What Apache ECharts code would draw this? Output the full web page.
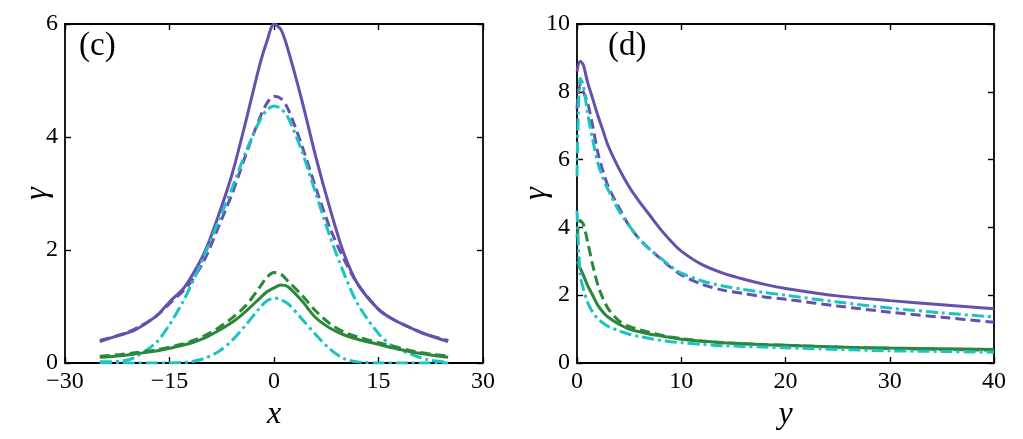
<!DOCTYPE html>
<html>
<head>
    <meta charset="utf-8">
    <title>gamma profiles</title>
    <script src="https://cdn.jsdelivr.net/npm/echarts@6/dist/echarts.min.js"></script>
    <style>
        html, body { margin: 0; padding: 0; background: #fff; }
        #chart { width: 1023px; height: 439px; }
    </style>
</head>
<body>
<div id="chart"></div>
<script type="text/javascript">
    // panel (c): gamma vs x
    var xs = [-25, -22, -20, -17, -15, -13, -12, -10, -8, -6, -4, -2, -1, 0, 1, 2, 4, 6, 8, 10, 12, 15, 17, 20, 22, 25];
    var cPurpleSolid = [0.38, 0.5, 0.58, 0.82, 1.08, 1.32, 1.5, 1.95, 2.6, 3.35, 4.3, 5.3, 5.7, 6.0, 5.9, 5.55, 4.65, 3.65, 2.75, 1.95, 1.4, 0.95, 0.78, 0.6, 0.5, 0.38];
    var cPurpleDash  = [0.4, 0.5, 0.6, 0.82, 1.05, 1.28, 1.42, 1.82, 2.4, 3.0, 3.7, 4.35, 4.6, 4.72, 4.68, 4.5, 3.85, 3.1, 2.4, 1.85, 1.4, 0.95, 0.78, 0.6, 0.5, 0.4];
    var cCyanUpper   = [0.02, 0.03, 0.1, 0.35, 0.68, 1.1, 1.35, 1.9, 2.5, 3.1, 3.75, 4.3, 4.48, 4.55, 4.5, 4.35, 3.75, 3.0, 2.25, 1.6, 1.05, 0.52, 0.3, 0.14, 0.06, 0.01];
    var cGreenSolid  = [0.1, 0.13, 0.16, 0.21, 0.26, 0.32, 0.35, 0.44, 0.57, 0.72, 0.92, 1.15, 1.26, 1.33, 1.38, 1.35, 1.1, 0.8, 0.62, 0.5, 0.42, 0.33, 0.27, 0.19, 0.15, 0.1];
    var cGreenDash   = [0.12, 0.15, 0.18, 0.23, 0.28, 0.34, 0.38, 0.48, 0.62, 0.8, 1.02, 1.35, 1.52, 1.6, 1.57, 1.45, 1.2, 0.92, 0.7, 0.55, 0.46, 0.36, 0.3, 0.21, 0.17, 0.12];
    var cCyanLower   = [0, 0, 0, 0, 0, 0.01, 0.02, 0.08, 0.2, 0.4, 0.68, 0.98, 1.1, 1.15, 1.12, 1.05, 0.78, 0.5, 0.25, 0.08, 0.02, 0, 0, 0, 0, 0];

    // panel (d): gamma vs y
    var ys = [0, 0.3, 0.6, 1, 1.5, 2, 2.5, 3, 4, 5, 6, 7, 8, 9, 10, 12, 14, 16, 18, 20, 25, 30, 35, 40];
    var dPurpleSolid = [8.6, 8.9, 8.8, 8.3, 7.8, 7.3, 6.85, 6.4, 5.75, 5.2, 4.75, 4.35, 3.95, 3.6, 3.3, 2.9, 2.65, 2.47, 2.32, 2.2, 1.98, 1.84, 1.72, 1.6];
    var dPurpleDash  = [7.5, 8.2, 8.0, 7.7, 7.0, 6.2, 5.65, 5.2, 4.6, 4.05, 3.65, 3.35, 3.08, 2.82, 2.6, 2.32, 2.15, 2.05, 1.95, 1.88, 1.68, 1.5, 1.35, 1.2];
    var dCyanUpper   = [5.5, 8.4, 8.2, 7.4, 6.6, 5.9, 5.45, 5.1, 4.5, 4.05, 3.65, 3.35, 3.1, 2.85, 2.65, 2.42, 2.27, 2.17, 2.08, 2.0, 1.8, 1.62, 1.48, 1.36];
    var dGreenSolid  = [3.0, 2.8, 2.6, 2.3, 2.0, 1.7, 1.5, 1.35, 1.15, 1.0, 0.92, 0.85, 0.8, 0.75, 0.7, 0.64, 0.6, 0.57, 0.54, 0.52, 0.47, 0.44, 0.42, 0.4];
    var dGreenDash   = [3.7, 4.2, 4.1, 3.6, 2.9, 2.3, 1.9, 1.6, 1.25, 1.08, 0.98, 0.9, 0.83, 0.77, 0.72, 0.65, 0.6, 0.57, 0.54, 0.52, 0.47, 0.43, 0.4, 0.38];
    var dCyanLower   = [4.5, 2.6, 2.2, 1.8, 1.5, 1.3, 1.18, 1.08, 0.95, 0.85, 0.78, 0.72, 0.67, 0.63, 0.6, 0.55, 0.51, 0.49, 0.47, 0.45, 0.4, 0.36, 0.34, 0.32];

    var PURPLE = '#6650ad', GREEN = '#2b873a', CYAN = '#1cc3c3';
    var FONT = 'Liberation Serif';

    function pairs(a, b) {
        return a.map(function (v, i) { return [v, b[i]]; });
    }
    function minus(v) {
        return v < 0 ? '\u2212' + (-v) : '' + v;
    }

    function line(name, xv, yv, color, type, xi) {
        return {
            name: name,
            type: 'line',
            xAxisIndex: xi,
            yAxisIndex: xi,
            data: pairs(xv, yv),
            showSymbol: false,
            smooth: 0.3,
            lineStyle: { color: color, width: 3, type: type, cap: 'butt' },
            z: 3
        };
    }

    var DASH = [10, 5];
    var DASHDOT = [12, 4, 3, 4];

    var tickStyle = { inside: true, length: 6, lineStyle: { color: '#000', width: 1.4 } };
    var lineBlack = { onZero: false, lineStyle: { color: '#000', width: 1.8 } };

    function bottomX(grid, min, max, interval, name) {
        return {
            type: 'value', gridIndex: grid, min: min, max: max, interval: interval,
            position: 'bottom',
            name: name, nameLocation: 'middle', nameGap: 27,
            nameTextStyle: { fontFamily: FONT, fontStyle: 'italic', fontSize: 32, color: '#000' },
            axisLine: lineBlack,
            axisTick: tickStyle,
            axisLabel: { fontFamily: FONT, fontSize: 24, color: '#000', margin: 7, formatter: minus },
            splitLine: { show: false }
        };
    }
    function topX(grid, min, max, interval) {
        return {
            type: 'value', gridIndex: grid, min: min, max: max, interval: interval,
            position: 'top',
            axisLine: lineBlack,
            axisTick: tickStyle,
            axisLabel: { show: false },
            splitLine: { show: false }
        };
    }
    function leftY(grid, min, max, interval, gap) {
        return {
            type: 'value', gridIndex: grid, min: min, max: max, interval: interval,
            position: 'left',
            name: '\u03b3', nameLocation: 'middle', nameGap: gap, nameMoveOverlap: false,
            nameTextStyle: { fontFamily: FONT, fontStyle: 'italic', fontSize: 32, color: '#000' },
            axisLine: lineBlack,
            axisTick: tickStyle,
            axisLabel: { fontFamily: FONT, fontSize: 24, color: '#000', margin: 7 },
            splitLine: { show: false }
        };
    }
    function rightY(grid, min, max, interval) {
        return {
            type: 'value', gridIndex: grid, min: min, max: max, interval: interval,
            position: 'right',
            axisLine: lineBlack,
            axisTick: tickStyle,
            axisLabel: { show: false },
            splitLine: { show: false }
        };
    }

    var myChart = echarts.init(document.getElementById('chart'));
    myChart.setOption({
        backgroundColor: '#fff',
        animation: false,
        grid: [
            { left: 65, top: 24, width: 418, height: 339 },
            { left: 577, top: 24, width: 417, height: 339 }
        ],
        xAxis: [
            bottomX(0, -30, 30, 15, 'x'),
            topX(0, -30, 30, 15),
            bottomX(1, 0, 40, 10, 'y'),
            topX(1, 0, 40, 10)
        ],
        yAxis: [
            leftY(0, 0, 6, 2, 11),
            rightY(0, 0, 6, 2),
            leftY(1, 0, 10, 2, 24),
            rightY(1, 0, 10, 2)
        ],
        graphic: [
            { type: 'text', left: 79, top: 30, style: { text: '(c)', fontFamily: FONT, fontSize: 33, fill: '#000' } },
            { type: 'text', left: 608, top: 30, style: { text: '(d)', fontFamily: FONT, fontSize: 33, fill: '#000' } }
        ],
        series: [
            line('c purple solid', xs, cPurpleSolid, PURPLE, 'solid', 0),
            line('c purple dashed', xs, cPurpleDash, PURPLE, DASH, 0),
            line('c cyan upper', xs, cCyanUpper, CYAN, DASHDOT, 0),
            line('c green solid', xs, cGreenSolid, GREEN, 'solid', 0),
            line('c green dashed', xs, cGreenDash, GREEN, DASH, 0),
            line('c cyan lower', xs, cCyanLower, CYAN, DASHDOT, 0),
            line('d purple solid', ys, dPurpleSolid, PURPLE, 'solid', 2),
            line('d purple dashed', ys, dPurpleDash, PURPLE, DASH, 2),
            line('d cyan upper', ys, dCyanUpper, CYAN, DASHDOT, 2),
            line('d green solid', ys, dGreenSolid, GREEN, 'solid', 2),
            line('d green dashed', ys, dGreenDash, GREEN, DASH, 2),
            line('d cyan lower', ys, dCyanLower, CYAN, DASHDOT, 2)
        ]
    });
</script>
</body>
</html>
